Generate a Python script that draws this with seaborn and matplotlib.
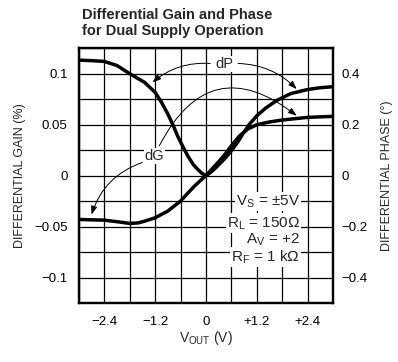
import numpy as np
import pandas as pd
import matplotlib
matplotlib.use("Agg")
import matplotlib.pyplot as plt
import seaborn as sns

# differential gain (%) vs output voltage
vout_g = [-3.0, -2.7, -2.4, -2.08, -1.8, -1.6, -1.44, -1.2, -0.9, -0.6, -0.45, -0.27, -0.1, 0.0,
          0.15, 0.32, 0.45, 0.6, 0.79, 0.99, 1.2, 1.5, 1.8, 2.4, 3.0]
gain = [-0.0428, -0.0432, -0.0435, -0.0451, -0.0467, -0.0462, -0.0444, -0.0412, -0.0346, -0.0248,
        -0.018, -0.0101, -0.0035, 0.0, 0.007, 0.0147, 0.021, 0.0294, 0.039, 0.0458, 0.05, 0.0527,
        0.0546, 0.0572, 0.0582]

# differential phase (deg) vs output voltage
vout_p = [-3.0, -2.7, -2.4, -2.1, -1.8, -1.45, -1.2, -1.05, -0.9, -0.78, -0.67, -0.55, -0.43, -0.3,
          -0.2, -0.1, 0.0, 0.1, 0.2, 0.32, 0.45, 0.6, 0.75, 0.87, 1.03, 1.2, 1.4, 1.66, 2.0, 2.4,
          2.7, 3.0]
phase = [0.453, 0.451, 0.448, 0.432, 0.400, 0.366, 0.327, 0.288, 0.242, 0.200, 0.156, 0.116, 0.078,
         0.044, 0.026, 0.010, 0.0, 0.012, 0.026, 0.046, 0.068, 0.098, 0.132, 0.164, 0.203, 0.235,
         0.264, 0.294, 0.322, 0.338, 0.345, 0.349]

x_ticks = [-3.0, -2.4, -1.8, -1.2, -0.6, 0.0, 0.6, 1.2, 1.8, 2.4, 3.0]
x_labels = ["", "\u22122.4", "", "\u22121.2", "", "0", "", "+1.2", "", "+2.4", ""]
g_ticks = [-0.125, -0.1, -0.075, -0.05, -0.025, 0.0, 0.025, 0.05, 0.075, 0.1, 0.125]
g_labels = ["", "\u22120.1", "", "\u22120.05", "", "0", "", "0.05", "", "0.1", ""]
p_ticks = [-0.4, -0.2, 0.0, 0.2, 0.4]
p_labels = ["\u22120.4", "\u22120.2", "0", "0.2", "0.4"]

conditions = ["V$_\\mathrm{S}$ = \u00b15V", "R$_\\mathrm{L}$ = 150\u2126",
              "A$_\\mathrm{V}$ = +2", "R$_\\mathrm{F}$ = 1 k\u2126"]
cond_y = [-0.0249, -0.046, -0.0625, -0.0794]

sns.set_style("white")
plt.rcParams["font.family"] = ["Liberation Sans", "DejaVu Sans"]
plt.rcParams["mathtext.fontset"] = "custom"
plt.rcParams["mathtext.rm"] = "Liberation Sans"

df_g = pd.DataFrame({"vout": vout_g, "gain": gain})
df_p = pd.DataFrame({"vout": vout_p, "phase": phase})

fig = plt.figure(figsize=(3.98, 3.62), dpi=100)
ax = fig.add_axes([0.198, 0.162, 0.639, 0.705])
ax2 = ax.twinx()

sns.lineplot(data=df_g, x="vout", y="gain", ax=ax, color="black", lw=2.5)
sns.lineplot(data=df_p, x="vout", y="phase", ax=ax2, color="black", lw=2.5)

ax.set_xlim(-3, 3)
ax.set_ylim(-0.125, 0.125)
ax2.set_ylim(-0.5, 0.5)

ax.set_xticks(x_ticks)
ax.set_xticklabels(x_labels)
ax.set_yticks(g_ticks)
ax.set_yticklabels(g_labels)
ax2.set_yticks(p_ticks)
ax2.set_yticklabels(p_labels)
ax.grid(True, color="black", lw=0.9)
ax.tick_params(axis="both", length=0, labelsize=9.5, colors="black")
ax.tick_params(axis="x", pad=9)
ax.tick_params(axis="y", pad=8)
ax2.tick_params(axis="y", length=0, labelsize=9.5, pad=6, colors="black")
for a in (ax, ax2):
    for s in a.spines.values():
        s.set_color("black")
        s.set_linewidth(1.6)

ax.set_xlabel("V$_\\mathrm{OUT}$ (V)", fontsize=10, labelpad=1)
ax.set_ylabel("DIFFERENTIAL GAIN (%)", fontsize=9, labelpad=6)
ax2.set_ylabel("DIFFERENTIAL PHASE (\u00b0)", fontsize=9, labelpad=10)

fig.text(0.205, 0.978, "Differential Gain and Phase\nfor Dual Supply Operation",
         fontweight="bold", fontsize=10.5, va="top", ha="left", linespacing=1.15)

# annotations, drawn in gain coordinates on top axis
tr = ax.transData
arrow = dict(arrowstyle="-|>,head_length=0.5,head_width=0.18", color="black", lw=0.7,
             shrinkA=0, shrinkB=0)
white = dict(facecolor="white", edgecolor="none", pad=0.6)
ax2.annotate("", xy=(-1.26, 0.0915), xycoords=tr, xytext=(0.1, 0.110), textcoords=tr,
             arrowprops=dict(arrow, connectionstyle="arc3,rad=0.2"))
ax2.annotate("", xy=(2.14, 0.0849), xycoords=tr, xytext=(0.76, 0.110), textcoords=tr,
             arrowprops=dict(arrow, connectionstyle="arc3,rad=-0.2"))
ax2.text(0.44, 0.1094, "dP", transform=tr, fontsize=10.5, ha="center", va="center", bbox=white)
ax2.annotate("", xy=(2.14, 0.0588), xycoords=tr, xytext=(-1.10, 0.0294), textcoords=tr,
             arrowprops=dict(arrow, connectionstyle="arc3,rad=-0.6"))
ax2.annotate("", xy=(-2.70, -0.038), xycoords=tr, xytext=(-1.5, 0.013), textcoords=tr,
             arrowprops=dict(arrow, connectionstyle="arc3,rad=0.25"))
ax2.text(-1.22, 0.0196, "dG", transform=tr, fontsize=10.5, ha="center", va="center", bbox=white)

for txt, yy in zip(conditions, cond_y):
    ax2.text(2.22, yy, txt, transform=tr, fontsize=11, ha="right", va="center",
             bbox=dict(facecolor="white", edgecolor="none", pad=0.8))

fig.savefig("out.png", dpi=100)
